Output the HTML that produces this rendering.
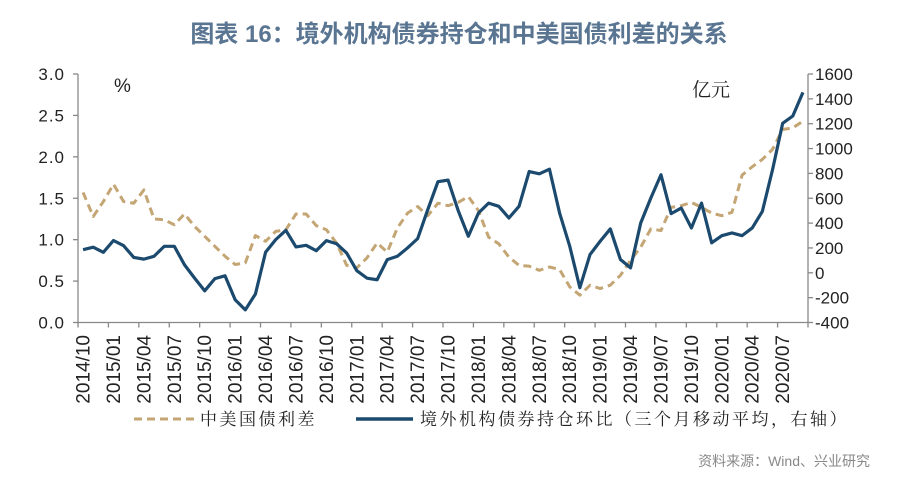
<!DOCTYPE html>
<html><head><meta charset="utf-8">
<style>
body{margin:0;background:#fff;}
svg text{font-family:"Liberation Sans","Noto Sans CJK SC",sans-serif;}
</style></head>
<body>
<svg id="chart" width="900" height="487" xmlns="http://www.w3.org/2000/svg">
<text x="459" y="42" text-anchor="middle" font-size="24" font-weight="bold" fill="#5a7592">图表 16：境外机构债券持仓和中美国债利差的关系</text>
<g id="axes"></g>
<g id="series"></g>
<text x="114" y="92" font-size="19" fill="#222">%</text>
<text x="692" y="96" font-size="19" fill="#222" style="font-family:'Noto Serif CJK SC',serif">亿元</text>
<g>
<line x1="134" y1="419" x2="194" y2="419" stroke="#c4a574" stroke-width="3" stroke-dasharray="8,5"/>
<text x="200" y="425" font-size="17" letter-spacing="2.5" fill="#222" style="font-family:'Noto Serif CJK SC',serif">中美国债利差</text>
<line x1="356" y1="419" x2="413" y2="419" stroke="#1b4a6e" stroke-width="3.5"/>
<text x="420" y="425" font-size="17" letter-spacing="2.5" fill="#222" style="font-family:'Noto Serif CJK SC',serif">境外机构债券持仓环比（三个月移动平均，右轴）</text>
</g>
<text x="870" y="466" text-anchor="end" font-size="14" fill="#888">资料来源：Wind、兴业研究</text>
</svg>
<script>
const spread=[1.57,1.28,1.46,1.67,1.46,1.44,1.60,1.25,1.24,1.18,1.31,1.16,1.04,0.92,0.80,0.70,0.72,1.05,0.98,1.10,1.12,1.31,1.31,1.17,1.12,0.96,0.69,0.66,0.78,0.96,0.85,1.14,1.32,1.40,1.29,1.44,1.41,1.45,1.52,1.35,1.03,0.95,0.79,0.69,0.68,0.63,0.67,0.64,0.43,0.33,0.45,0.41,0.45,0.57,0.75,0.91,1.13,1.11,1.39,1.41,1.45,1.39,1.32,1.29,1.33,1.78,1.88,1.97,2.09,2.33,2.35,2.43];
const holdings=[186,206,165,260,218,124,110,133,213,213,65,-43,-145,-47,-24,-217,-298,-171,165,267,342,208,221,178,259,234,159,17,-43,-56,106,133,200,275,509,733,746,500,294,481,561,535,441,535,815,797,834,481,214,-120,147,254,353,107,40,401,602,789,476,521,361,561,241,299,321,299,361,495,829,1203,1262,1452];
const leftTicks=["0.0","0.5","1.0","1.5","2.0","2.5","3.0"];
const rightTicks=["-400","-200","0","200","400","600","800","1000","1200","1400","1600"];
const startYear=2014, startMonth=10;
const X0=78,X1=808,Y0=322.5,Y1=74;
const n=spread.length;
const step=(X1-X0)/n;
const xc=i=>X0+(i+0.5)*step;
const yL=v=>Y0-(v/3)*(Y0-Y1);
const yR=v=>Y0-((v+400)/2000)*(Y0-Y1);
const NS="http://www.w3.org/2000/svg";
function mk(tag,attrs,parent){const e=document.createElementNS(NS,tag);for(const k in attrs)e.setAttribute(k,attrs[k]);parent.appendChild(e);return e;}
const ax=document.getElementById('axes');
let e;
e=mk('line',{x1:X0,y1:Y1,x2:X0,y2:Y0,stroke:'#888','stroke-width':1.3},ax);


e=mk('line',{x1:X1,y1:Y1,x2:X1,y2:Y0,stroke:'#888','stroke-width':1.3},ax);


e=mk('line',{x1:X0,y1:Y0,x2:X1,y2:Y0,stroke:'#888','stroke-width':1.3},ax);


leftTicks.forEach(t=>{const y=yL(parseFloat(t));
 e=mk('line',{x1:X0-5,y1:y,x2:X0,y2:y,stroke:'#888','stroke-width':1.3},ax);
 
 
 e=mk('text',{x:65,y:y+6,'text-anchor':'end','font-size':17,'letter-spacing':1,fill:'#222'},ax);e.textContent=t;
 
 });
rightTicks.forEach(t=>{const y=yR(parseFloat(t));
 e=mk('line',{x1:X1,y1:y,x2:X1+5,y2:y,stroke:'#888','stroke-width':1.3},ax);
 
 
 e=mk('text',{x:815,y:y+6,'font-size':17,fill:'#222'},ax);e.textContent=t;
 
 });
for(let i=0;i<=n;i+=3){const x=X0+i*step;
 e=mk('line',{x1:x,y1:Y0,x2:x,y2:Y0+5,stroke:'#888','stroke-width':1.3},ax);
 
 
 if(i<n){const m=startMonth-1+i;const yr=startYear+Math.floor(m/12);const mo=(m%12)+1;
 const lx=xc(i)+6.5;
 e=mk('text',{x:lx,y:335,'text-anchor':'end','font-size':19,fill:'#222',transform:`rotate(-90 ${lx} 335)`},ax);
 e.textContent=yr+'/'+String(mo).padStart(2,'0');
 
 }}
const sg=document.getElementById('series');
e=mk('polyline',{points:spread.map((v,i)=>xc(i)+','+yL(v)).join(' '),fill:'none',stroke:'#c4a574','stroke-width':3,'stroke-dasharray':'8,5','stroke-linejoin':'round'},sg);


e=mk('polyline',{points:holdings.map((v,i)=>xc(i)+','+yR(v)).join(' '),fill:'none',stroke:'#1b4a6e','stroke-width':3.2,'stroke-linejoin':'round'},sg);


</script>
</body></html>
